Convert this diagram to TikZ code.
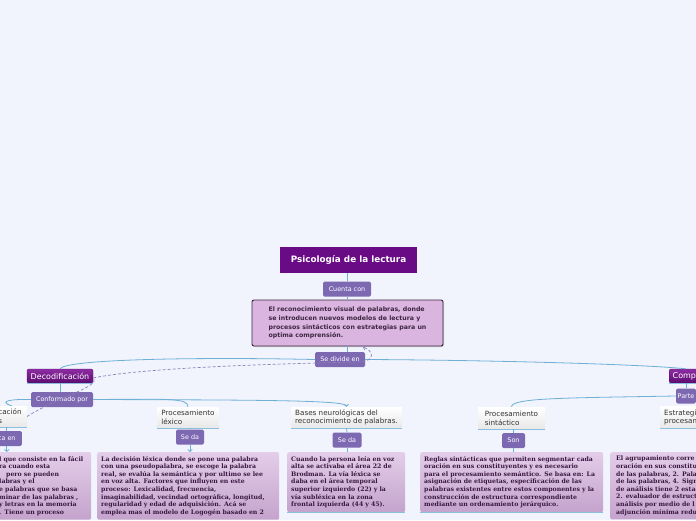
\documentclass[tikz,border=0pt]{standalone}
\usepackage{fontspec}
\setmainfont{DejaVu Sans}
\newfontfamily\notefont{DejaVu Serif}
\usetikzlibrary{arrows.meta,shadows}
\definecolor{Canvas}{HTML}{F1F4FC}
\definecolor{TitlePurple}{HTML}{6A0B86}
\definecolor{LabelPurple}{HTML}{7D68B2}
\definecolor{MainFill}{HTML}{D9B5DF}
\definecolor{MainRule}{HTML}{3E2742}
\definecolor{TopicTop}{HTML}{8E2CA3}
\definecolor{TopicBot}{HTML}{5C0C70}
\definecolor{NoteTop}{HTML}{E3CDE9}
\definecolor{NoteBot}{HTML}{C4A3CC}
\definecolor{NoteText}{HTML}{3A1741}
\definecolor{LinkBlue}{HTML}{6EAFD6}
\definecolor{DashGray}{HTML}{8C82B8}
\definecolor{GrayText}{HTML}{333333}

\begin{document}
\begin{tikzpicture}[
  x=1pt, y=-1pt,
  title/.style={rectangle, fill=TitlePurple, text=white, font=\bfseries\fontsize{8.8}{10}\selectfont, minimum width=137pt, minimum height=26pt, inner sep=0pt},
  label/.style={rectangle, rounded corners=1.5pt, fill=LabelPurple, text=white, font=\fontsize{6.4}{7}\selectfont, minimum height=15pt, inner xsep=3pt, inner ysep=0pt},
  mainbox/.style={rectangle, rounded corners=2pt, draw=MainRule, line width=0.9pt, fill=MainFill, text=MainRule, align=left, font=\bfseries\fontsize{6.25}{8.7}\selectfont, minimum width=191pt, minimum height=46pt, drop shadow={opacity=0.35, shadow xshift=1pt, shadow yshift=-1pt}},
  topic/.style={rectangle, rounded corners=2pt, top color=TopicTop, bottom color=TopicBot, draw=TopicBot, text=white, font=\fontsize{8}{9}\selectfont, minimum height=14pt, inner xsep=3pt, inner ysep=0pt},
  subtopic/.style={rectangle, top color=white, bottom color=black!9, text=GrayText, align=left, font=\fontsize{7.2}{8.7}\selectfont, minimum height=21pt, inner xsep=4pt, inner ysep=1pt},
  note/.style={rectangle, rounded corners=2pt, top color=NoteTop, bottom color=NoteBot, text=NoteText, align=left, anchor=north west, font=\notefont\bfseries\fontsize{6.2}{7.6}\selectfont, inner xsep=4pt, inner ysep=4pt},
  link/.style={draw=LinkBlue, line width=0.8pt},
  tip/.style={-{Straight Barb[length=2pt,width=4.5pt]}},
  rel/.style={draw=DashGray, dash pattern=on 3pt off 2pt, line width=0.7pt},
  uline/.style={draw=LinkBlue!80, line width=0.8pt}
]
\useasboundingbox (0,0) rectangle (696,520);
\clip (0,0) rectangle (696,520);
\fill[Canvas] (0,0) rectangle (696,520);

% centre of the map
\node[title] (title) at (348.5,260) {Psicología de la lectura};
\node[label, minimum width=48pt] (cuenta) at (347,289) {Cuenta con};
\node[mainbox] (main) at (347.5,323) {El reconocimiento visual de palabras, donde\\se introducen nuevos modelos de lectura y\\procesos sintácticos con estrategias para un\\optima comprensión.};
\node[label, minimum width=50pt] (divide) at (340,359.5) {Se divide en};
\coordinate (maintip) at (363,347);

% main branches
\node[topic, minimum width=66pt] (deco) at (60,376) {Decodificación};
\node[topic, anchor=west, inner xsep=3.5pt] (compr) at (669,376) {Compr};
\node[label, minimum width=62pt] (conformado) at (62,399.5) {Conformado por};
\node[label, anchor=west, inner xsep=1.5pt] (parte) at (676,396) {Parte};

% sub topics
\node[subtopic, anchor=east, text width=27pt, inner xsep=1.5pt, minimum width=30pt] (izq) at (27,416.5) {cación\\s};
\node[subtopic, minimum width=60pt] (lexico) at (188,417.5) {Procesamiento\\léxico};
\node[subtopic, minimum width=107pt] (bases) at (346.5,417.5) {Bases neurológicas del\\reconocimiento de palabras.};
\node[subtopic, minimum width=67pt, minimum height=22pt] (sintactico) at (511.5,418) {Procesamiento\\sintáctico};
\node[subtopic, anchor=west, minimum height=22pt, text width=60pt] (estrategi) at (660,417.5) {Estrategi\\procesam};

\node[label, anchor=east, minimum width=30pt, inner xsep=4pt] (caen) at (22,438.5) {ca en};
\node[label, minimum width=28pt] (seda1) at (190,437) {Se da};
\node[label, minimum width=29pt] (seda2) at (347,440) {Se da};
\node[label, minimum width=23pt] (son) at (513.5,440.5) {Son};

% notes
\node[note, text width=88pt, at={(-5,452)}] (noteizq) {l que consiste en la fácil\\ra cuando esta\\\hspace*{7pt}pero se pueden\\labras y el\\e palabras que se basa\\minar de las palabras ,\\y letras en la memoria\\. Tiene un proceso};
\node[note, text width=174pt, at={(97,452)}] (notelex) {La decisión léxica donde se pone una palabra\\con una pseudopalabra, se escoge la palabra\\real, se evalúa la semántica y por ultimo se lee\\en voz alta. Factores que influyen en este\\proceso: Lexicalidad, frecuencia,\\imaginabilidad, vecindad ortográfica, longitud,\\regularidad y edad de adquisición. Acá se\\emplea mas el modelo de Logogén basado en 2};
\node[note, text width=110pt, at={(287,452)}] (notebases) {Cuando la persona leía en voz\\alta se activaba el área 22 de\\Brodman. La vía léxica se\\daba en el área temporal\\superior izquierdo (22) y la\\vía subléxica en la zona\\frontal izquierda (44 y 45).};
\node[note, text width=175pt, at={(420,452)}] (notesint) {Reglas sintácticas que permiten segmentar cada\\oración en sus constituyentes y es necesario\\para el procesamiento semántico. Se basa en: La\\asignación de etiquetas, especificación de las\\palabras existentes entre estos componentes y la\\construcción de estructura correspondiente\\mediante un ordenamiento jerárquico.};
\node[note, text width=120pt, inner xsep=6pt, at={(610,452)}] (noteder) {El agrupamiento corre\\oración en sus constitu\\de las palabras, 2. Pala\\de las palabras, 4. Sign\\de análisis tiene 2 estad\\2. evaluador de estruct\\análisis por medio de l\\adjunción mínima redu};

\foreach \n in {deco,compr,izq,lexico,bases,sintactico,estrategi,notebases,notesint}
  \draw[uline] (\n.south west) -- (\n.south east);

% connectors
\draw[link] (cuenta.north |- title.south) -- (cuenta.north);
\draw[link] (cuenta.south) -- (cuenta.south |- main.north);
\draw[link] (main.south) -- (main.south |- divide.north);
\draw[link] (divide.west) .. controls (200,357) and (66,359) .. (deco.north);
\draw[link] (divide.east) .. controls (480,360) and (640,364) .. (compr.north);
\draw[link] (deco.south) -- (deco.south |- conformado.north);
\draw[link] (conformado.west) .. controls (12,399) and (-3,401) .. (izq.north);
\draw[link] (conformado.east) .. controls (170,399) and (188,398) .. (lexico.north);
\draw[link, tip] (conformado.east) .. controls (250,400) and (346,400) .. (bases.north);
\draw[link] (compr.south -| parte.north) -- (parte.north);
\draw[link] (parte.west) .. controls (560,398) and (512,398) .. (sintactico.north);
\draw[link] (izq.south -| caen.north) -- (caen.north);
\draw[link, tip] (caen.south) -- (caen.south |- noteizq.north);
\draw[link] (lexico.south -| seda1.north) -- (seda1.north);
\draw[link, tip] (seda1.south) -- (seda1.south |- notelex.north);
\draw[link] (bases.south) -- (seda2.north);
\draw[link] (seda2.south) -- (seda2.south |- notebases.north);
\draw[link] (sintactico.south -| son.north) -- (son.north);
\draw[link] (son.south) -- (son.south |- notesint.north);

% relation from Decodificación back to the main box
\draw[rel, tip] (izq.east) .. controls (60,396) and (102,386) .. (93,378)
  .. controls (150,366) and (320,363) .. (358,362)
  .. controls (378,361) and (372,350) .. (maintip);
\end{tikzpicture}
\end{document}
